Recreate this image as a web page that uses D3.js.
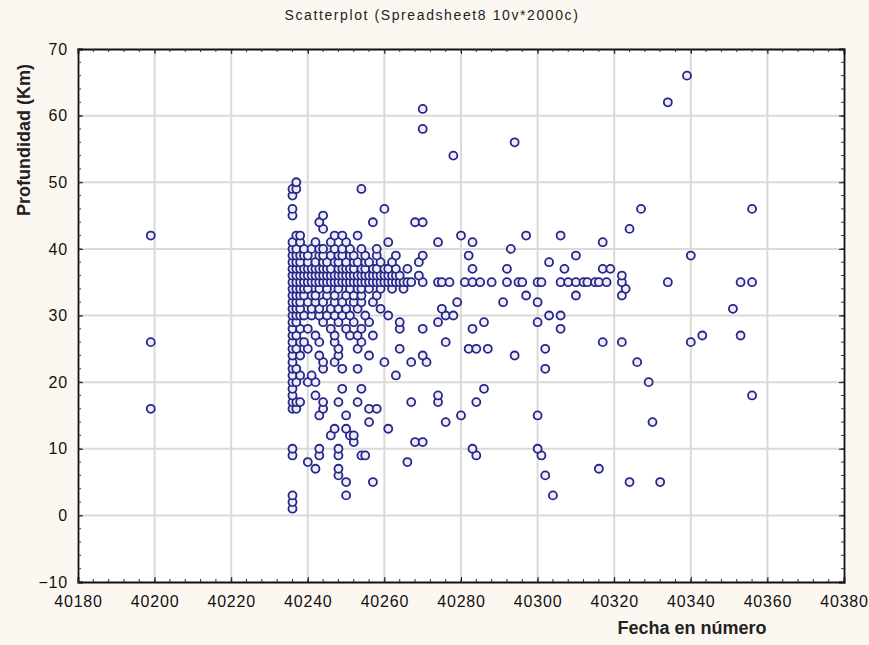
<!DOCTYPE html>
<html><head><meta charset="utf-8">
<script src="https://cdn.jsdelivr.net/npm/d3@7"></script>
<style>
body{margin:0;background:#fcf8f1;}
svg{display:block;font-family:"Liberation Sans",Arial,sans-serif;}
</style></head><body>
<svg id="c" width="869" height="645"></svg>
<script>
const title = "Scatterplot (Spreadsheet8 10v*2000c)";
const xLabel = "Fecha en número";
const yLabel = "Profundidad (Km)";
const xTicks = [40180,40200,40220,40240,40260,40280,40300,40320,40340,40360,40380];
const yTicks = [-10,0,10,20,30,40,50,60,70];

// Points grouped by depth row: [depth, [dates...]]
const rows = [
  [1,[40236]],[2,[40236]],[3,[40236,40250,40304]],
  [5,[40250,40257,40324,40332]],[6,[40248,40302]],[7,[40242,40248,40316]],
  [8,[40240,40266]],[9,[40236,40243,40248,40254,40255,40284,40301]],
  [10,[40236,40243,40248,40283,40300]],[11,[40252,40268,40270]],
  [12,[40246,40251,40252]],[13,[40247,40250,40261]],[14,[40256,40276,40330]],
  [15,[40243,40250,40280,40300]],[16,[40199,40236,40237,40244,40256,40258]],
  [17,[40236,40237,40238,40244,40248,40253,40267,40274,40284]],
  [18,[40236,40242,40274,40356]],[19,[40236,40249,40254,40286]],
  [20,[40236,40237,40240,40242,40329]],[21,[40236,40238,40241,40263]],
  [22,[40236,40237,40244,40249,40253,40302]],
  [23,[40236,40244,40247,40260,40267,40271,40326]],
  [24,[40236,40238,40243,40248,40256,40270,40294]],
  [25,[40236,40237,40240,40248,40253,40264,40282,40284,40287,40302]],
  [26,[40199,40236,40238,40239,40243,40247,40254,40276,40317,40322,40340]],
  [27,[40236,40237,40242,40247,40251,40253,40257,40343,40353]],
  [28,[40236,40238,40240,40246,40250,40254,40264,40270,40283,40306]],
  [29,[40236,40237,40244,40248,40252,40256,40264,40274,40286,40300]],
  [30,[40236,40237,40238,40239,40241,40243,40245,40247,40249,40251,40255,40261,40276,40278,40303,40306]],
  [31,[40236,40237,40238,40241,40243,40246,40248,40250,40253,40259,40275,40351]],
  [32,[40236,40237,40238,40240,40242,40244,40247,40249,40252,40254,40257,40279,40291,40300]],
  [33,[40236,40237,40238,40239,40241,40242,40245,40247,40250,40252,40254,40258,40297,40310,40322]],
  [34,[40236,40237,40238,40239,40240,40243,40245,40248,40251,40253,40254,40256,40259,40262,40265,40323]],
  [35,[40236,40237,40238,40239,40240,40241,40242,40243,40244,40245,40246,40247,40248,40249,40250,40251,40252,40253,40254,40255,40256,40257,40258,40259,40260,40261,40262,40263,40264,40265,40266,40267,40270,40274,40275,40277,40281,40283,40285,40288,40292,40295,40296,40300,40301,40306,40308,40310,40312,40313,40315,40316,40318,40322,40334,40353,40356]],
  [36,[40236,40237,40238,40239,40240,40241,40242,40243,40244,40245,40246,40247,40248,40249,40250,40251,40252,40253,40254,40255,40256,40257,40258,40259,40260,40261,40262,40263,40264,40269,40322]],
  [37,[40236,40237,40238,40239,40240,40241,40242,40243,40244,40245,40246,40248,40249,40250,40251,40252,40254,40255,40257,40258,40260,40261,40263,40266,40283,40292,40307,40317,40319]],
  [38,[40236,40237,40238,40240,40242,40244,40245,40247,40248,40250,40252,40253,40255,40256,40259,40262,40269,40303]],
  [39,[40236,40237,40238,40239,40240,40243,40244,40246,40248,40249,40251,40252,40255,40258,40263,40270,40282,40310,40340]],
  [40,[40236,40237,40239,40241,40243,40244,40247,40249,40251,40254,40258,40293]],
  [41,[40236,40238,40242,40246,40250,40261,40274,40283,40317]],
  [42,[40199,40237,40238,40247,40249,40253,40280,40297,40306]],
  [43,[40244,40324]],[44,[40243,40257,40268,40270]],[45,[40236,40244]],
  [46,[40236,40260,40327,40356]],[48,[40236]],[49,[40236,40237,40254]],
  [50,[40237]],[54,[40278]],[56,[40294]],[58,[40270]],[61,[40270]],
  [62,[40334]],[66,[40339]]
];
const fecha = [], profundidad = [];
rows.forEach(([d, xs]) => xs.forEach(x => { fecha.push(x); profundidad.push(d); }));

const svg = d3.select("#c");
const L = 78, R = 844, T = 49, B = 582;
const x = d3.scaleLinear().domain([40180,40380]).range([L,R]);
const y = d3.scaleLinear().domain([-10,70]).range([B,T]);

svg.append("rect").attr("x",L).attr("y",T).attr("width",R-L).attr("height",B-T).attr("fill","#fff");

// grid
const grid = svg.append("g").attr("stroke","#dcd9d6").attr("stroke-width",2);
xTicks.slice(1,-1).forEach(v => grid.append("line").attr("x1",x(v)).attr("x2",x(v)).attr("y1",T).attr("y2",B));
yTicks.slice(1,-1).forEach(v => grid.append("line").attr("y1",y(v)).attr("y2",y(v)).attr("x1",L).attr("x2",R));

// axes
const fmt = d3.format("d");
const ax = svg.append("g").attr("transform",`translate(0,${B})`)
  .call(d3.axisBottom(x).tickValues(xTicks).tickFormat(fmt).tickSize(-5).tickPadding(14));
const axTop = svg.append("g").attr("transform",`translate(0,${T})`)
  .call(d3.axisTop(x).tickValues(xTicks).tickFormat("").tickSize(-5));
const ay = svg.append("g").attr("transform",`translate(${L},0)`)
  .call(d3.axisLeft(y).tickValues(yTicks).tickFormat(fmt).tickSize(-5).tickPadding(10));
const ayR = svg.append("g").attr("transform",`translate(${R},0)`)
  .call(d3.axisRight(y).tickValues(yTicks).tickFormat("").tickSize(-5));
// minor ticks
const xMinor = d3.range(40180,40381,4), yMinor = d3.range(-10,70.1,2);
[[B,-3],[T,3]].forEach(([yy,len]) => svg.append("g").selectAll("line").data(xMinor).join("line")
  .attr("x1",d=>x(d)).attr("x2",d=>x(d)).attr("y1",yy).attr("y2",yy+len).attr("stroke","#333"));
[[L,3],[R,-3]].forEach(([xx,len]) => svg.append("g").selectAll("line").data(yMinor).join("line")
  .attr("y1",d=>y(d)).attr("y2",d=>y(d)).attr("x1",xx).attr("x2",xx+len).attr("stroke","#333"));
[ax,axTop,ay,ayR].forEach(g => {
  g.select(".domain").attr("stroke","#111").attr("stroke-width",1.8);
  g.selectAll(".tick line").attr("stroke","#111");
  g.selectAll("text").attr("font-size",16).attr("letter-spacing","0.8px").attr("fill","#111")
    .attr("font-family","'Liberation Sans',Arial,sans-serif");
});

// points
svg.append("g").selectAll("circle").data(fecha.map((f,i)=>[f,profundidad[i]])).join("circle")
  .attr("cx",d=>x(d[0])).attr("cy",d=>y(d[1])).attr("r",4)
  .attr("fill","#eeeefa").attr("stroke","#272789").attr("stroke-width",1.8);

// labels
svg.append("text").attr("x",432).attr("y",20).attr("text-anchor","middle")
  .attr("font-size",14).attr("letter-spacing","1.6px").attr("fill","#222").text(title);
svg.append("text").attr("transform","translate(30,140) rotate(-90)").attr("text-anchor","middle")
  .attr("font-size",18).attr("font-weight","bold").attr("fill","#222").text(yLabel);
svg.append("text").attr("x",692).attr("y",634).attr("text-anchor","middle")
  .attr("font-size",18).attr("font-weight","bold").attr("fill","#222").text(xLabel);
</script></body></html>
